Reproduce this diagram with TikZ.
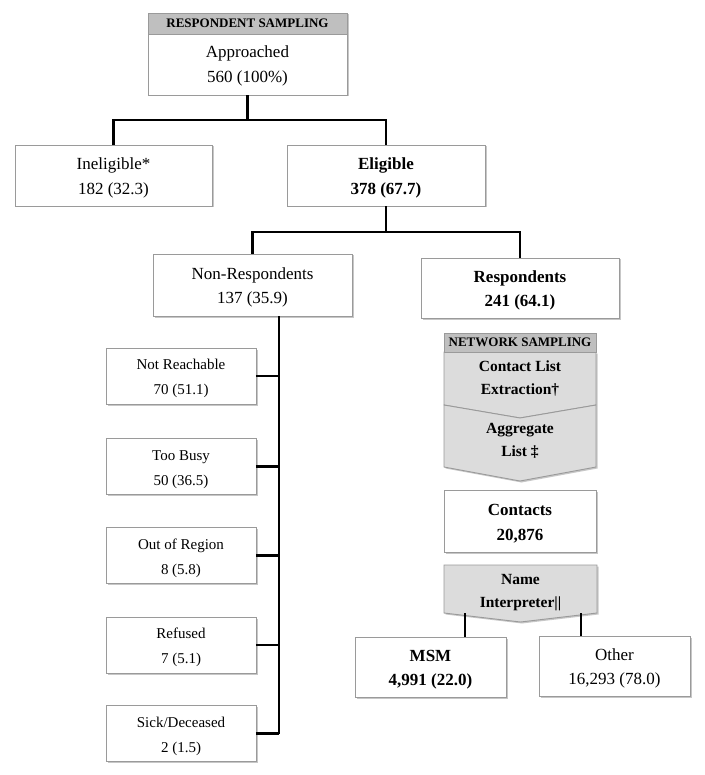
\documentclass[tikz,border=0pt]{standalone}
\usepackage{fontspec}
\setmainfont{Liberation Serif}
\usetikzlibrary{shadows}
\definecolor{hdr}{HTML}{BFBFBF}
\definecolor{chev}{HTML}{DCDCDC}
\definecolor{edgegray}{HTML}{9A9A9A}
\newcommand\bigstrt{\rule{0pt}{16.5pt}}
\newcommand\smlstrt{\rule{0pt}{16pt}}
\tikzset{
  shadowed/.style={drop shadow={shadow xshift=1.5pt, shadow yshift=-1.5pt, fill=black, opacity=0.22}},
  box/.style={draw=edgegray, line width=0.9pt, fill=white, inner sep=0pt, align=center, shadowed,
    font=\fontsize{17}{24.5}\selectfont},
  smallbox/.style={box, minimum width=150pt, minimum height=56pt, font=\fontsize{15}{25}\selectfont},
  hdrbox/.style={draw=edgegray, line width=0.9pt, fill=hdr, inner sep=0pt,
    font=\bfseries\fontsize{13}{15}\selectfont},
  txt/.style={inner sep=0pt, align=center},
  chevtext/.style={txt, font=\bfseries\fontsize{15.5}{23}\selectfont},
  chevshape/.style={draw=edgegray, line width=0.9pt, fill=chev, shadowed},
  conn/.style={line width=2.8pt, black}
}
\begin{document}
\begin{tikzpicture}[x=1pt,y=-1pt]
\useasboundingbox (0,0) rectangle (704,775);

% ---------- respondent sampling ----------
\node[box, minimum width=199pt, minimum height=82pt] (top) at (247.5,54) {};
\node[hdrbox, minimum width=199pt, minimum height=21pt] (tophdr) at (247.5,23.5) {RESPONDENT SAMPLING};
\node[txt, font=\fontsize{17}{24.5}\selectfont] (toptext) at (247.5,66) {Approached\\560 (100\%)};

\node[box, minimum width=197pt, minimum height=61pt] (inel) at (113.5,175.5) {\bigstrt Ineligible*\\182 (32.3)};
\node[box, minimum width=198pt, minimum height=61pt] (elig) at (386,175.5) {\bigstrt\bfseries Eligible\\\bfseries 378 (67.7)};

\node[box, minimum width=199pt, minimum height=62pt] (nonresp) at (252.5,285) {\bigstrt Non-Respondents\\137 (35.9)};
\node[box, minimum width=198pt, minimum height=60pt] (resp) at (520,288) {\bigstrt\bfseries Respondents\\\bfseries 241 (64.1)};

\node[smallbox] (nr1) at (181,376) {\smlstrt Not Reachable\\70 (51.1)};
\node[smallbox] (nr2) at (181,466.5) {\smlstrt Too Busy\\50 (36.5)};
\node[smallbox] (nr3) at (181,555.5) {\smlstrt Out of Region\\8 (5.8)};
\node[smallbox] (nr4) at (181,645) {\smlstrt Refused\\7 (5.1)};
\node[smallbox] (nr5) at (181,733.5) {\smlstrt Sick/Deceased\\2 (1.5)};

% connectors
\coordinate (bus1) at (0,120);
\coordinate (bus2) at (0,232);
\draw[conn] (top.south) -- (top.south |- bus1) -| (inel.north);
\draw[conn] (top.south |- bus1) -| (elig.north);
\draw[conn] (elig.south) -- (elig.south |- bus2) -| (nonresp.north);
\draw[conn] (elig.south |- bus2) -| (resp.north);

\coordinate (trunk) at ([xshift=26.5pt]nonresp.south);
\draw[conn] (trunk) -- (trunk |- nr5.east);
\foreach \n in {nr1,nr2,nr3,nr4,nr5}{
  \draw[conn] ([xshift=-0.5pt]\n.east) -- (\n.east -| trunk);
}

% ---------- network sampling ----------
\draw[chevshape] (444,352) -- (596,352) -- (596,405) -- (520,418) -- (444,405) -- cycle;
\draw[chevshape] (444,405) -- (520,418) -- (596,405) -- (596,467) -- (520,481) -- (444,467) -- cycle;
\node[hdrbox, minimum width=152pt, minimum height=19pt] (nethdr) at (520,342.5) {NETWORK SAMPLING};
\node[chevtext] (extract) at (520,379) {Contact List\\Extraction†};
\node[chevtext] (aggr) at (520,440.5) {Aggregate\\List ‡};

\node[box, minimum width=152pt, minimum height=62pt] (contacts) at (520,521) {\bigstrt\bfseries Contacts\\\bfseries 20,876};

\draw[chevshape] (444,565) -- (597,565) -- (597,613) -- (520.5,622) -- (444,613) -- cycle;
\node[chevtext] (namei) at (520.5,593) {Name\\Interpreter||};

\node[box, minimum width=151pt, minimum height=60pt] (msm) at (430.5,667) {\bigstrt\bfseries MSM\\\bfseries 4,991 (22.0)};
\node[box, minimum width=151pt, minimum height=60pt] (other) at (614.5,666) {\bigstrt Other\\16,293 (78.0)};

\coordinate (niL) at (465,613);
\coordinate (niR) at (581,613);
\draw[conn] (niL) -- (niL |- msm.north);
\draw[conn] (niR) -- (niR |- other.north);
\end{tikzpicture}
\end{document}
